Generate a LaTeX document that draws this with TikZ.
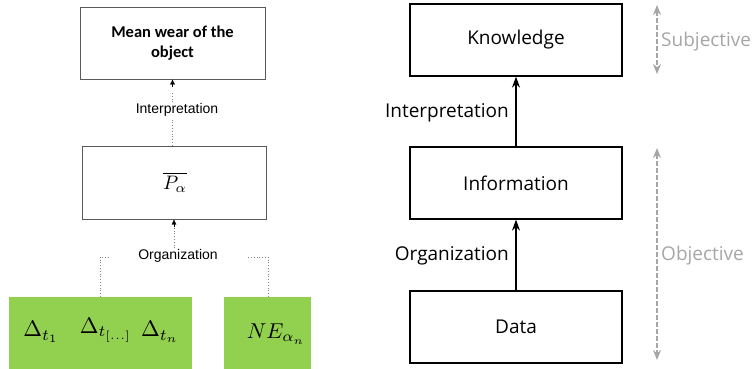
\documentclass[tikz,border=0pt]{standalone}
\usepackage{graphicx}
\usepackage{fontspec}
\setmainfont{Open Sans}
\newfontfamily\calib{Carlito}
\newfontfamily\arialf{Liberation Sans}
\usetikzlibrary{arrows.meta}
\definecolor{offgreen}{HTML}{92D050}
\definecolor{lgray}{HTML}{A6A6A6}
\definecolor{bordergray}{HTML}{5A5A5A}
\begin{document}
\begin{tikzpicture}[x=1pt,y=-1pt,
  lbox/.style={draw=bordergray,line width=0.9pt,minimum width=185pt,minimum height=72pt,inner sep=0pt,align=center},
  rbox/.style={draw=black,line width=1.3pt,minimum width=212pt,minimum height=72pt,inner sep=0pt,font=\fontsize{19}{23}\selectfont},
  gbox/.style={fill=offgreen,draw=none,minimum height=72pt,inner sep=0pt},
  llabel/.style={font=\arialf\fontsize{14}{17}\selectfont,inner sep=1pt},
  rlabel/.style={font=\fontsize{19}{23}\selectfont,inner sep=1pt},
  dots/.style={draw=gray,dotted,line width=0.8pt},
  darr/.style={-{Latex[length=5pt,width=5pt]},draw=black,line width=0.3pt},
  sarr/.style={-{Stealth[length=11pt,width=8pt]},line width=1.3pt},
  garr/.style={{Stealth[length=10pt,width=8pt]}-{Stealth[length=10pt,width=8pt]},draw=lgray,dashed,dash pattern=on 5pt off 2pt,line width=1.3pt},
  glabel/.style={text=lgray,font=\fontsize{19}{23}\selectfont,anchor=west,inner sep=0pt},
  mth/.style={inner sep=0pt}]
\useasboundingbox (0,0) rectangle (752,369);
% ---------- left diagram ----------
\node[lbox,font=\calib\bfseries\fontsize{16.5}{20}\selectfont] (mw) at (172.5,43) {Mean wear of the\\object};
\node[lbox,minimum width=184pt,minimum height=73pt] (pa) at (174,182.5) {};
\node[mth] (pat) at (175,182) {\scalebox{1.95}{$\overline{P_{\alpha}}$}};
\node[llabel] (il) at (177,110) {Interpretation};
\node[llabel] (ol) at (178,256) {Organization};
\draw[dots] (pa.north -| mw.south) -- (il.south -| mw.south);
\draw[dots] (il.north -| mw.south) -- ++(0,-10);
\draw[darr] ([yshift=-8pt]mw.south) -- (mw.south);
\draw[dots] (ol.north -| pa.south) -- ++(0,-22);
\draw[darr] ([yshift=-8pt]pa.south) -- (pa.south);
\node[gbox,minimum width=183pt] (g1) at (100.5,333) {};
\node[gbox,minimum width=87pt] (g2) at (267.5,333) {};
\node[mth] (d1) at (41,332) {\scalebox{2.25}{$\Delta_{t_1}$}};
\node[mth] (d2) at (106,330) {\scalebox{2.25}{$\Delta_{t_{[\dots]}}$}};
\node[mth] (d3) at (160,332) {\scalebox{2.25}{$\Delta_{t_n}$}};
\node[mth] (ne) at (276,334) {\scalebox{2.15}{$NE_{\alpha_n}$}};
\coordinate (bl) at (110,257);
\coordinate (br) at (247,257);
\draw[dots] (g1.north -| 100,0) |- (bl);
\draw[dots] (g2.north -| 268,0) |- (br);
% ---------- right diagram ----------
\node[rbox] (K) at (516,40) {Knowledge};
\node[rbox] (I) at (516,183) {Information};
\node[rbox] (D) at (516,327) {Data};
\draw[sarr] (I.north) -- (K.south);
\draw[sarr] (D.north) -- (I.south);
\node[rlabel,anchor=east] (ir) at (510,113) {Interpretation};
\node[rlabel,anchor=east] (orr) at (510,256) {Organization};
\coordinate (s1) at (657,5);
\coordinate (s2) at (657,74);
\coordinate (o1) at (657,148);
\coordinate (o2) at (657,360);
\draw[garr] (s1) -- (s2);
\draw[garr] (o1) -- (o2);
\node[glabel] (sub) at (661,42) {Subjective};
\node[glabel] (obj) at (661,256) {Objective};
\end{tikzpicture}
\end{document}
